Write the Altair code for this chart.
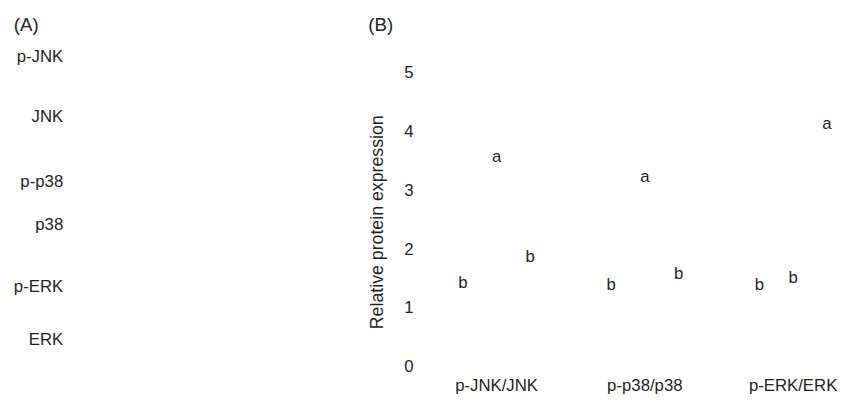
import altair as alt
import pandas as pd

FONT = "Liberation Sans"
INK = "#231f20"

# Panel A: blot row labels (row position along the blot, top = 0)
blot_labels = ["p-JNK", "JNK", "p-p38", "p38", "p-ERK", "ERK"]
blot_row_pos = [0.42, 2.27, 4.29, 5.63, 7.55, 9.19]

# Panel B: significance letters and their heights
groups = ["p-JNK/JNK", "p-p38/p38", "p-ERK/ERK"]
conditions = ["Group 1", "Group 2", "Group 3"]
letters_jnk = ["b", "a", "b"]
letters_p38 = ["b", "a", "b"]
letters_erk = ["b", "b", "a"]
heights_jnk = [1.43, 3.56, 1.87]
heights_p38 = [1.38, 3.22, 1.57]
heights_erk = [1.38, 1.51, 4.12]
y_ticks = [0, 1, 2, 3, 4, 5]

df_a = pd.DataFrame({"label": blot_labels, "pos": blot_row_pos})

rows = []
for g, lets, hs in zip(groups, [letters_jnk, letters_p38, letters_erk],
                       [heights_jnk, heights_p38, heights_erk]):
    for c, l, h in zip(conditions, lets, hs):
        rows.append({"group": g, "condition": c, "letter": l, "value": h})
df_b = pd.DataFrame(rows)

PLOT_H = 328

panel_a = alt.Chart(df_a).mark_text(
    align="right", baseline="middle", fontSize=17, font=FONT, color=INK
).encode(
    x=alt.value(50),
    y=alt.Y("pos:Q", scale=alt.Scale(domain=[0, 10], reverse=True, nice=False), axis=None),
    text="label:N",
).properties(
    width=359, height=PLOT_H,
    title=alt.TitleParams("(A)", anchor="start", fontSize=19, fontWeight="normal",
                          font=FONT, color=INK, offset=9),
)

panel_b = alt.Chart(df_b).mark_text(
    baseline="middle", fontSize=17, font=FONT, color=INK
).encode(
    x=alt.X("group:N", sort=groups,
            scale=alt.Scale(paddingInner=0.5, paddingOuter=0),
            axis=alt.Axis(title=None, labelAngle=0, domain=False, ticks=False, grid=False,
                          labelFontSize=17, labelFont=FONT, labelColor=INK, labelPadding=11)),
    xOffset=alt.XOffset("condition:N", sort=conditions,
                        scale=alt.Scale(paddingInner=0, paddingOuter=0.1)),
    y=alt.Y("value:Q", scale=alt.Scale(domain=[0, 5.5], nice=False, zero=True),
            axis=alt.Axis(title="Relative protein expression", values=y_ticks,
                          domain=False, ticks=False, grid=False,
                          labelFontSize=17, labelFont=FONT, labelColor=INK, labelPadding=47,
                          titleFontSize=18, titleFont=FONT, titleColor=INK,
                          titleFontWeight="normal", titlePadding=18, titleY=181)),
    text="letter:N",
).properties(
    width=376, height=PLOT_H,
    title=alt.TitleParams("(B)", anchor="start", fontSize=19, fontWeight="normal",
                          font=FONT, color=INK, offset=9),
)

chart = alt.hconcat(panel_a, panel_b, spacing=0).configure_view(stroke=None)

chart.save("out.html", embed_options={"renderer": "svg", "actions": False})
